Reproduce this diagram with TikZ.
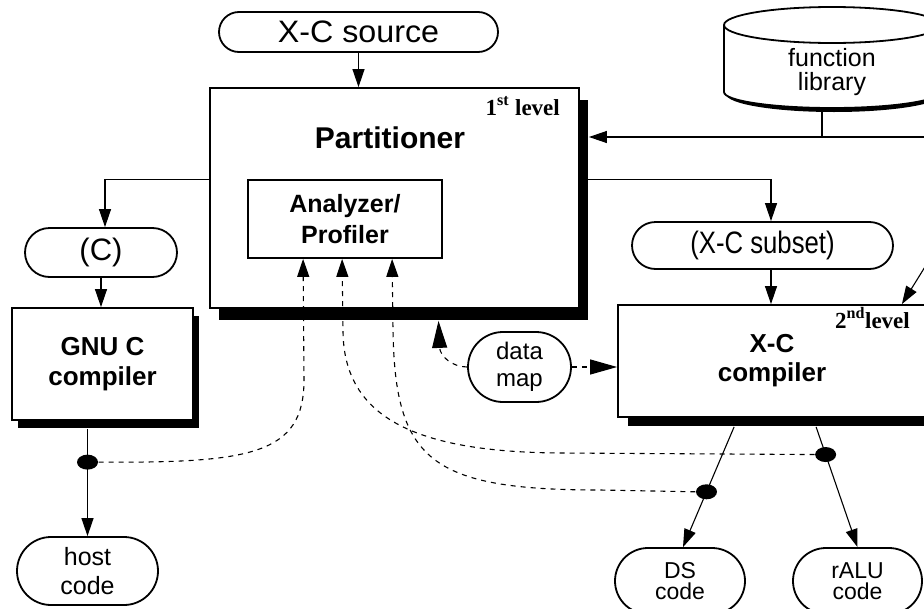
\documentclass[tikz,border=0pt]{standalone}
\usepackage{fontspec}
\setmainfont{Liberation Sans}
\newfontfamily\lvlfont{Liberation Serif}
\newfontfamily\widefont{Liberation Sans}[FakeStretch=1.04]
\newfontfamily\narrowfont{Liberation Sans}[FakeStretch=0.83]
\usetikzlibrary{arrows.meta,shapes.misc,shapes.geometric,shadows}

\tikzset{
  pill/.style={draw, line width=1.8pt, rounded rectangle, inner sep=0pt, align=center, fill=white},
  box/.style={draw, line width=1.8pt, rectangle, inner sep=0pt, align=center, fill=white},
  conn/.style={line width=1.1pt},
  arr/.style={conn, -{Triangle[length=18pt,width=12pt]}},
  dashconn/.style={line width=1.1pt, dash pattern=on 5pt off 5pt},
  dasharr/.style={dashconn, -{Triangle[length=18pt,width=12pt]}},
  bigdasharr/.style={dashconn, -{Triangle[length=27pt,width=15pt]}},
  blob/.style={ellipse, fill=black, inner sep=0pt, minimum width=21pt, minimum height=15pt},
  plain/.style={inner sep=0pt, align=center},
}

\begin{document}
\begin{tikzpicture}[x=1pt,y=-1pt]
\useasboundingbox (0,0) rectangle (924,608);
\clip (0,0) rectangle (924,608);

% ---- function library (cylinder) ----
\fill[white] (724,25) -- (724,92) arc[start angle=180,end angle=0,x radius=108,y radius=16] -- (940,25) -- cycle;
\draw[line width=1.8pt] (724,25) -- (724,92) arc[start angle=180,end angle=0,x radius=108,y radius=16] -- (940,25);
\fill (724,92) arc[start angle=180,end angle=0,x radius=108,y radius=16]
      -- (942,94) arc[start angle=0,end angle=180,x radius=108,y radius=18] -- cycle;
\draw[line width=1.8pt, fill=white] (832,25) ellipse[x radius=108, y radius=18];
\node[plain, font=\fontsize{25}{24}\selectfont] (lib) at (832,72) {function\\library};
\coordinate (libbase) at (822,110);
\coordinate (libjoin) at (822,137);
\coordinate (rightin) at (930,137);
\coordinate (diagin) at (928,262);

% ---- main boxes ----
\node[pill, minimum width=279pt, minimum height=40pt, font=\widefont\fontsize{31}{34}\selectfont] (src) at (358.5,32) {X-C source};

\node[box, minimum width=369pt, minimum height=220pt,
      drop shadow={shadow xshift=9pt, shadow yshift=-12pt, opacity=1, fill=black}] (part) at (394.5,198) {};
\node[plain, font=\bfseries\fontsize{30}{34}\selectfont] (parttitle) at (390,138) {Partitioner};
\node[plain, font=\lvlfont\bfseries\fontsize{23}{26}\selectfont, anchor=base east] (lvlone) at (560,115) {1\textsuperscript{st} level};
\node[box, minimum width=194pt, minimum height=78pt, font=\bfseries\fontsize{25}{31}\selectfont] (ana) at (345,219) {Analyzer/\\Profiler};

\node[pill, minimum width=152pt, minimum height=49pt, font=\fontsize{31}{34}\selectfont] (cpill) at (101,252.5) {(C)};
\node[box, minimum width=181pt, minimum height=112pt, font=\bfseries\fontsize{26}{30}\selectfont,
      drop shadow={shadow xshift=6pt, shadow yshift=-8pt, opacity=1, fill=black}] (gnu) at (102.5,364) {GNU C\\compiler};
\node[pill, minimum width=141pt, minimum height=68pt, font=\fontsize{25}{29}\selectfont] (host) at (87.5,571) {host\\code};

\node[pill, minimum width=261pt, minimum height=47pt, font=\narrowfont\fontsize{31}{34}\selectfont] (sub) at (762.5,245.5) {(X-C subset)};
\node[box, minimum width=308pt, minimum height=112pt, font=\bfseries\fontsize{26}{29}\selectfont,
      drop shadow={shadow xshift=10pt, shadow yshift=-9pt, opacity=1, fill=black}] (xcc) at (772,361) {X-C\\compiler};
\node[plain, font=\lvlfont\bfseries\fontsize{23}{26}\selectfont, anchor=base east] (lvltwo) at (910,328) {2\textsuperscript{nd}level};

\node[pill, minimum width=103pt, minimum height=70pt, font=\fontsize{24}{27}\selectfont] (dmap) at (519.5,367) {data\\map};

\node[pill, minimum width=130pt, minimum height=66pt, font=\fontsize{23}{21}\selectfont] (ds) at (680,581) {DS\\code};
\node[pill, minimum width=129pt, minimum height=66pt, font=\fontsize{23}{21}\selectfont] (ralu) at (857.5,581) {rALU\\code};

% ---- solid connectors ----
\draw[arr] (src.south) -- (src.south |- part.north);
\draw[conn] (libbase) -- (libjoin);
\draw[arr] (rightin) -- ([xshift=9pt]part.east |- rightin);
\draw[arr] (diagin) -- ([xshift=-25pt]xcc.north east);
\draw[arr] ([yshift=-92pt]part.north west) -| ([xshift=4pt]cpill.north);
\draw[arr] (cpill.south) -- (cpill.south |- gnu.north);
\draw[arr] ([yshift=-92pt]part.north east) -| ([xshift=8.5pt]sub.north);
\draw[arr] ([xshift=8.5pt]sub.south) -- ([xshift=8.5pt]sub.south |- xcc.north);

\draw[arr] ([yshift=-8pt]gnu.south -| host.north) -- node[blob, pos=0.31] (dotone) {} (host.north);
\draw[arr] ([xshift=117pt,yshift=-9pt]xcc.south west) -- node[blob, pos=0.54] (dottwo) {} ([xshift=3pt]ds.north);
\draw[arr] ([xshift=199pt,yshift=-9pt]xcc.south west) -- node[blob, pos=0.23] (dotthree) {} (ralu.north);

% ---- dashed feedback paths ----
\draw[bigdasharr] (dmap.east) -- (dmap.east -| xcc.west);
\draw[bigdasharr] (dmap.west) .. controls (452,367) and (440,356) .. ([xshift=44pt,yshift=-12pt]part.south);

\draw[dasharr] (dotone.east) .. controls (250,463) and (304,455) .. (304,380) -- ([xshift=56pt]ana.south west);
\draw[dasharr] (dotthree.west) -- (560,453) .. controls (420,452) and (343,420) .. (343,330) -- ([xshift=95pt]ana.south west);
\draw[dasharr] (dottwo.west) -- (600,490) .. controls (430,490) and (395,460) .. (393,330) -- ([xshift=145pt]ana.south west);
\end{tikzpicture}
\end{document}
